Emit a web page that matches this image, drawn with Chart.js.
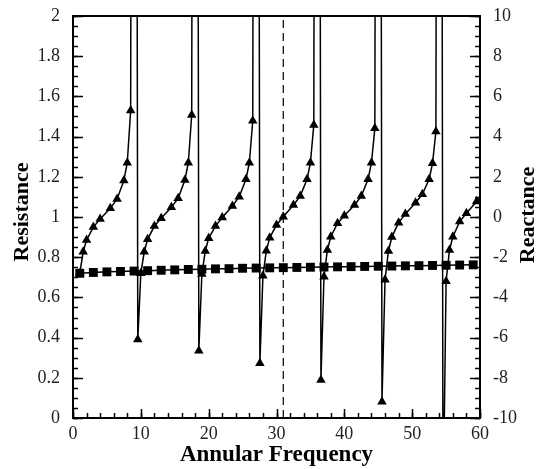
<!DOCTYPE html>
<html lang="en">
<head>
<meta charset="UTF-8">
<title>Resistance and Reactance vs Annular Frequency</title>
<script src="https://cdn.jsdelivr.net/npm/chart.js"></script>
<style>
  html, body { margin: 0; padding: 0; background: #fff; }
</style>
</head>
<body>
<canvas id="freqChart" width="537" height="469"></canvas>
<script>
  // resistance (squares, left axis)
  const resFreq = [1, 3, 5, 7, 9, 11, 13, 15, 17, 19, 21, 23, 25, 27, 29,
                   31, 33, 35, 37, 39, 41, 43, 45, 47, 49, 51, 53, 55, 57, 59];
  const resValue = [0.720, 0.724, 0.727, 0.729, 0.731, 0.733, 0.735, 0.737, 0.739, 0.740,
                    0.742, 0.743, 0.745, 0.746, 0.747, 0.748, 0.749, 0.750, 0.751, 0.752,
                    0.753, 0.754, 0.755, 0.756, 0.757, 0.758, 0.759, 0.760, 0.761, 0.762];

  // reactance (triangles, right axis) - the 100 / -15 points sit off the chart at the poles
  const reactFreq = [
    1.0, 1.5, 2.0, 3.0, 4.0, 5.5, 6.5, 7.5, 8.0, 8.5, 9.0,
    9.55, 10.0, 10.5, 11.0, 12.0, 13.0, 14.5, 15.5, 16.5, 17.0, 17.5, 18.0,
    18.55, 19.0, 19.5, 20.0, 21.0, 22.0, 23.5, 24.5, 25.5, 26.0, 26.5, 27.0,
    27.55, 28.0, 28.5, 29.0, 30.0, 31.0, 32.5, 33.5, 34.5, 35.0, 35.5, 36.0,
    36.55, 37.0, 37.5, 38.0, 39.0, 40.0, 41.5, 42.5, 43.5, 44.0, 44.5, 45.0,
    45.55, 46.0, 46.5, 47.0, 48.0, 49.0, 50.5, 51.5, 52.5, 53.0, 53.5, 54.0,
    54.55, 55.0, 55.5, 56.0, 57.0, 58.0, 59.5, 60.5
  ];
  const reactValue = [
    -2.8, -1.73, -1.15, -0.5, -0.1, 0.43, 0.9, 1.81, 2.7, 5.3, 100,
    -6.1, -2.8, -1.73, -1.11, -0.45, -0.06, 0.48, 0.93, 1.84, 2.7, 5.07, 100,
    -6.65, -2.84, -1.69, -1.06, -0.45, -0.03, 0.55, 1.01, 1.88, 2.7, 4.79, 100,
    -7.28, -2.92, -1.68, -1.03, -0.4, 0.01, 0.6, 1.04, 1.88, 2.7, 4.58, 100,
    -8.11, -2.97, -1.64, -0.98, -0.31, 0.06, 0.6, 1.04, 1.88, 2.7, 4.41, 100,
    -9.19, -3.12, -1.69, -1.0, -0.28, 0.15, 0.71, 1.13, 1.88, 2.67, 4.25, 100,
    -15, -3.2, -1.64, -0.98, -0.23, 0.19, 0.77, 1.15
  ];

  // dashed reference line
  const markerFreq = 31;
  const markerSpan = [0, 2];

  const serif = "'Liberation Serif', 'Times New Roman', serif";

  // inward ticks, frame and axis titles
  const framePlugin = {
    id: 'framePlugin',
    afterDraw(chart) {
      const { ctx, chartArea: a, scales } = chart;
      ctx.save();
      ctx.strokeStyle = '#000';
      ctx.lineWidth = 1.5;

      function ticksX(scale, step, len) {
        for (let v = scale.min; v <= scale.max + 1e-9; v += step) {
          const px = Math.round(scale.getPixelForValue(v)) + 0.5;
          ctx.beginPath();
          ctx.moveTo(px, a.bottom);
          ctx.lineTo(px, a.bottom - len);
          ctx.stroke();
        }
      }
      function ticksY(scale, step, len, fromRight) {
        for (let v = scale.min; v <= scale.max + 1e-9; v += step) {
          const py = Math.round(scale.getPixelForValue(v)) + 0.5;
          const x0 = fromRight ? a.right : a.left;
          ctx.beginPath();
          ctx.moveTo(x0, py);
          ctx.lineTo(fromRight ? x0 - len : x0 + len, py);
          ctx.stroke();
        }
      }
      ticksX(scales.x, 10, 9);
      ticksX(scales.x, 2, 5);
      ticksY(scales.y, 0.2, 10, false);
      ticksY(scales.y, 0.05, 5, false);
      ticksY(scales.y2, 2, 10, true);
      ticksY(scales.y2, 0.5, 5, true);

      ctx.lineWidth = 2;
      ctx.strokeRect(a.left, a.top, a.right - a.left, a.bottom - a.top);

      ctx.fillStyle = '#000';
      ctx.textAlign = 'center';
      ctx.textBaseline = 'middle';
      ctx.font = 'bold 23px ' + serif;
      ctx.fillText('Annular Frequency', (a.left + a.right) / 2, 455);

      ctx.font = 'bold 22px ' + serif;
      ctx.translate(22, 212);
      ctx.rotate(-Math.PI / 2);
      ctx.fillText('Resistance', 0, 0);
      ctx.restore();

      ctx.save();
      ctx.fillStyle = '#000';
      ctx.font = 'bold 22px ' + serif;
      ctx.textAlign = 'center';
      ctx.textBaseline = 'middle';
      ctx.translate(528, 215);
      ctx.rotate(-Math.PI / 2);
      ctx.fillText('Reactance', 0, 0);
      ctx.restore();
    }
  };

  const tickFont = { family: serif, size: 18 };

  new Chart(document.getElementById('freqChart'), {
    type: 'line',
    data: {
      datasets: [
        {
          label: 'Resistance',
          data: resFreq.map((f, i) => ({ x: f, y: resValue[i] })),
          yAxisID: 'y',
          borderColor: '#000',
          backgroundColor: '#000',
          borderWidth: 1.5,
          pointStyle: 'rect',
          pointRadius: 6.3,
          pointBorderWidth: 0,
          tension: 0
        },
        {
          label: 'Reactance',
          data: reactFreq.map((f, i) => ({ x: f, y: reactValue[i] })),
          yAxisID: 'y2',
          borderColor: '#000',
          backgroundColor: '#000',
          borderWidth: 1.5,
          pointStyle: 'triangle',
          pointRadius: 5.5,
          pointBorderWidth: 0,
          tension: 0
        },
        {
          label: 'marker',
          data: markerSpan.map(v => ({ x: markerFreq, y: v })),
          yAxisID: 'y',
          borderColor: '#000',
          borderWidth: 1.2,
          borderDash: [8, 5],
          pointRadius: 0
        }
      ]
    },
    options: {
      responsive: false,
      animation: false,
      layout: { padding: { top: 16 } },
      plugins: { legend: { display: false }, tooltip: { enabled: false } },
      scales: {
        x: {
          type: 'linear',
          min: 0, max: 60,
          grid: { display: false },
          border: { display: false },
          ticks: { stepSize: 10, font: tickFont, color: '#222', padding: -3, maxRotation: 0 },
          afterFit(s) { s.height = 51; }
        },
        y: {
          position: 'left',
          min: 0, max: 2,
          grid: { display: false },
          border: { display: false },
          ticks: {
            stepSize: 0.2, font: tickFont, color: '#222', padding: 5,
            callback: v => String(Number(v.toFixed(1)))
          },
          afterFit(s) { s.width = 73; }
        },
        y2: {
          position: 'right',
          min: -10, max: 10,
          grid: { display: false },
          border: { display: false },
          ticks: { stepSize: 2, font: tickFont, color: '#222', padding: 5 },
          afterFit(s) { s.width = 57; }
        }
      }
    },
    plugins: [framePlugin]
  });
</script>
</body>
</html>
